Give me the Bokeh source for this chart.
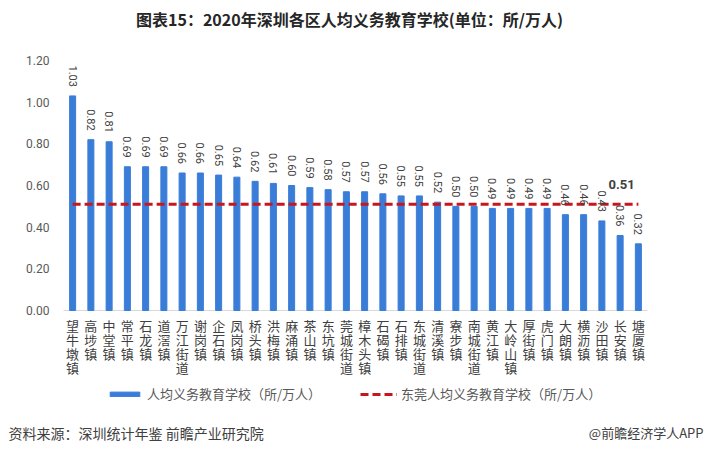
import math
from bokeh.plotting import figure
from bokeh.core.properties import value
from bokeh.models import (FactorRange, Range1d, Label, Legend, LegendItem,
                          ColumnDataSource)
from bokeh.embed import file_html
from bokeh.resources import INLINE

categories = ["望牛墩镇", "高埗镇", "中堂镇", "常平镇", "石龙镇", "道滘镇", "万江街道", "谢岗镇",
              "企石镇", "凤岗镇", "桥头镇", "洪梅镇", "麻涌镇", "茶山镇", "东坑镇", "莞城街道",
              "樟木头镇", "石碣镇", "石排镇", "东城街道", "清溪镇", "寮步镇", "南城街道", "黄江镇",
              "大岭山镇", "厚街镇", "虎门镇", "大朗镇", "横沥镇", "沙田镇", "长安镇", "塘厦镇"]
values = [1.03, 0.82, 0.81, 0.69, 0.69, 0.69, 0.66, 0.66, 0.65, 0.64, 0.62, 0.61, 0.60,
          0.59, 0.58, 0.57, 0.57, 0.56, 0.55, 0.55, 0.52, 0.50, 0.50, 0.49, 0.49, 0.49,
          0.49, 0.46, 0.46, 0.43, 0.36, 0.32]
dongguan_avg = 0.51
y_ticks = [0.0, 0.2, 0.4, 0.6, 0.8, 1.0, 1.2]
y_tick_labels = ["0.00", "0.20", "0.40", "0.60", "0.80", "1.00", "1.20"]

title_text = "图表15：2020年深圳各区人均义务教育学校(单位：所/万人)"
series_bar = "人均义务教育学校（所/万人）"
series_line = "东莞人均义务教育学校（所/万人）"
source_text = "资料来源：深圳统计年鉴 前瞻产业研究院"
brand_text = "@前瞻经济学人APP"

FONT = "Noto Sans CJK SC"
NUMFONT = "Roboto"
BLUE = "#3A7DD9"
RED = "#C8161D"

W, H = 705, 452
LEFT = 5                              # frame left edge (pixels)
PLOT_L, PLOT_R = 63, 647              # category band (pixels)
Y0_PX, Y1_PX = 310, 60                # pixel rows of 0.00 and 1.20
n = len(categories)
band = (PLOT_R - PLOT_L) / n
pad_units = (PLOT_L - LEFT) / band
px_per_unit = (Y0_PX - Y1_PX) / 1.2
y_start = -(H - Y0_PX) / px_per_unit
y_end = 1.2 + Y1_PX / px_per_unit

src = ColumnDataSource(dict(
    x=categories, top=values, lab=["%.2f" % v for v in values],
    avg=[dongguan_avg] * n))

cx, cy, ct, coff = [], [], [], []
for c in categories:
    for k, ch in enumerate(c):
        cx.append(c)
        cy.append(0)
        ct.append(ch)
        coff.append(15 + 14 * k)
char_src = ColumnDataSource(dict(x=cx, y=cy, t=ct, off=coff))

ytick_src = ColumnDataSource(dict(x=[0] * len(y_ticks), y=y_ticks, t=y_tick_labels))

p = figure(width=W, height=H,
           x_range=FactorRange(*categories, range_padding=2 * pad_units / n,
                               range_padding_units="percent"),
           y_range=Range1d(y_start, y_end), output_backend="svg", toolbar_location=None,
           x_axis_location=None, y_axis_location=None, min_border_left=LEFT,
           min_border_right=0, min_border_top=0, min_border_bottom=0)
p.outline_line_color = None
p.xgrid.grid_line_color = None
p.ygrid.grid_line_color = None

# category baseline (spans the whole category band)
p.segment(x0=[0], x1=[n], y0=[0], y1=[0], line_color="#D9D9D9", line_width=1)

bars = p.vbar(x="x", top="top", width=0.33, color=BLUE, source=src)
line = p.line(x="x", y="avg", color=RED, line_width=3, line_dash="8 4", source=src)

# value labels, rotated clockwise, ending just above each bar
p.text(x="x", y="top", text="lab", source=src, angle=-math.pi / 2,
       text_align="right", text_baseline="middle", y_offset=-9,
       text_font=value(NUMFONT), text_font_size="11px", text_color="#404040")

# stacked category characters under the baseline
p.text(x="x", y="y", text="t", source=char_src, y_offset="off",
       text_align="center", text_baseline="middle",
       text_font=value(FONT), text_font_size="13px", text_color="#404040")

# y tick labels (right-aligned left of the category band)
p.text(x="x", y="y", text="t", source=ytick_src, x_offset=-14,
       text_align="right", text_baseline="middle",
       text_font=value(NUMFONT), text_font_size="12px", text_color="#595959")

p.add_layout(Label(x=30.58, y=0.607, text="%.2f" % dongguan_avg, text_font=NUMFONT,
                   text_font_size="13px", text_font_style="bold", text_color="#404040",
                   text_align="center", text_baseline="middle"))

legend = Legend(items=[LegendItem(label=series_bar, renderers=[bars]),
                       LegendItem(label=series_line, renderers=[line])],
                orientation="horizontal", location=(106 - LEFT, H - 403), padding=0,
                margin=0, spacing=39, glyph_width=37, glyph_height=6, label_height=16,
                label_standoff=4, label_text_font=FONT, label_text_font_size="13px",
                label_text_color="#595959", border_line_color=None,
                background_fill_alpha=0)
p.add_layout(legend, "center")

p.add_layout(Label(x=349 - LEFT, y=H - 18, x_units="screen", y_units="screen",
                   text=title_text, text_font=FONT, text_font_size="16px",
                   text_font_style="bold", text_color="#262626",
                   text_align="center", text_baseline="middle"))
p.add_layout(Label(x=8 - LEFT, y=H - 432, x_units="screen", y_units="screen",
                   text=source_text, text_font=FONT, text_font_size="14px",
                   text_color="#404040", text_align="left", text_baseline="middle"))
p.add_layout(Label(x=703 - LEFT, y=H - 432, x_units="screen", y_units="screen",
                   text=brand_text, text_font=FONT, text_font_size="13px",
                   text_color="#404040", text_align="right", text_baseline="middle"))

open("out.html", "w").write(file_html(p, INLINE))
